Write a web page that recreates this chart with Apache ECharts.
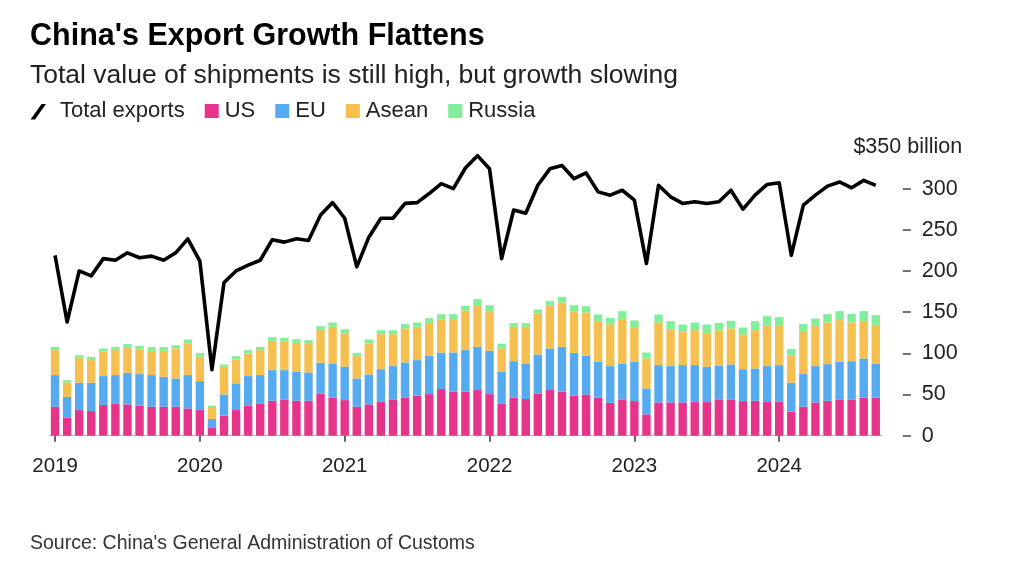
<!DOCTYPE html>
<html><head><meta charset="utf-8">
<script src="https://cdn.jsdelivr.net/npm/echarts@6/dist/echarts.min.js"></script>
<style>html,body{margin:0;padding:0;background:#fff}#c{width:1024px;height:585px}</style>
</head><body><div id="c"></div>
<script>
const months = [
'2019-01','2019-02','2019-03','2019-04','2019-05','2019-06','2019-07','2019-08','2019-09','2019-10','2019-11','2019-12',
'2020-01','2020-02','2020-03','2020-04','2020-05','2020-06','2020-07','2020-08','2020-09','2020-10','2020-11','2020-12',
'2021-01','2021-02','2021-03','2021-04','2021-05','2021-06','2021-07','2021-08','2021-09','2021-10','2021-11','2021-12',
'2022-01','2022-02','2022-03','2022-04','2022-05','2022-06','2022-07','2022-08','2022-09','2022-10','2022-11','2022-12',
'2023-01','2023-02','2023-03','2023-04','2023-05','2023-06','2023-07','2023-08','2023-09','2023-10','2023-11','2023-12',
'2024-01','2024-02','2024-03','2024-04','2024-05','2024-06','2024-07','2024-08','2024-09'];

const totalExports = [
219,138,200,194,215,213,222,216,218,213,222,239,
212,80,186,200,207,213,238,235,239,237,268,283,
264,205,241,264,264,282,283,294,306,300,325,340,
324,215,274,270,304,324,328,312,319,296,292,298,
286,209,304,290,282,284,282,284,298,275,292,305,
307,219,280,292,303,308,301,310,304];

const us = [
35.2,21.8,31.1,29.9,37.2,39.2,38,36.4,35.2,35.2,35.2,33.1,
31.1,9.5,24.3,31.1,36.4,39.2,42.4,44.1,42.4,42.4,51.3,46.1,
43.2,35.2,38,41.2,44.1,46.1,48.5,50.5,56.6,53.4,53.4,55.4,
50.5,38.8,46.1,44.5,51.3,55.4,53.4,48.5,50.1,46.1,40,44.1,
42,25.9,40.4,40.4,40.4,40.8,40.8,44.1,44.1,42,42.4,40.8,
41.2,29.1,35.2,40.4,42.4,44.1,44.1,46.1,46.1];

const eu = [
38.4,25.5,33.2,34.4,35.2,34.4,38.4,38.4,38.4,36.3,34.3,40.5,
35.2,11,25.8,32.4,36,34.4,37.2,35.5,35.2,34.4,37.2,41.6,
40.5,34.3,36.4,39.6,40.4,42.8,43.3,46.5,44.4,47.6,50.5,52.5,
52.6,38.8,44.4,43.2,47.3,50.5,54.5,52.1,46.9,43.6,44.5,43.6,
47.7,31.5,45.3,44.1,45.3,44.9,42.9,41.2,42.4,38.8,39.2,43.7,
44.5,35.2,39.6,44.1,44.5,45.6,46.4,47.7,41.6];

const asean = [
30.3,17.4,30.3,27.5,29.5,30.3,30.3,30.3,29.5,31.6,36.4,38,
29.5,14.5,33.6,29.1,27.4,30.3,35.6,34.4,35.2,34.8,40,44.5,
40.4,27.1,37.6,42.5,38.8,41.3,40.4,40,40.5,40.5,48.1,49.7,
48.1,28.3,41.7,44.5,49.7,51.7,53.8,49.8,52.6,49.7,50.9,53.8,
42.1,36.4,51.7,44.8,40.4,42.4,41.2,42.6,43.7,42.1,46.5,48.9,
48.5,32.7,52.5,48.9,50.5,50.6,46.9,45.6,46.9];

const russia = [
4,2.8,3.2,4,4,4,4.5,4,4.4,4.4,4,5.2,
4.8,1.5,2.8,4,4.1,4,4.4,4.8,4.4,4.4,4.5,5.2,
5.2,4,4.8,4.8,4.8,5.6,5.2,5.7,6,6,5.6,8.1,
7.2,5.7,4.4,4.4,4.9,5.7,6.9,8,7.6,7.7,7.7,9.7,
8.1,7.2,9.7,9.7,8.9,9.3,10.1,9.0,9.2,8.5,10.9,11.7,
9.7,8.1,8.1,8.9,10.1,10.9,10.5,11.8,11.7];

const yTickValues = [0,50,100,150,200,250,300];
const yMax = 350;
const yTopLabel = '$350 billion';

const FONT = "'Liberation Sans', Arial, Helvetica, sans-serif";
const C = {us:'#e5348a', eu:'#55aaf0', asean:'#f5c050', russia:'#80ee9b'};
const sq = 'path://M0,0 M16,16 M1,1 H15 V15 H1 Z';
const slash = 'path://M0,0 M16,17 M0.5,17 L5,17 L16,1.5 L11.5,1.5 Z';

const chart = echarts.init(document.getElementById('c'), null, {renderer:'canvas'});
const barBase = {type:'bar', stack:'partners', barWidth:8.4, z:2};
chart.setOption({
  animation:false,
  backgroundColor:'#fff',
  textStyle:{fontFamily:FONT},
  title:[
    {text:"China's Export Growth Flattens", left:30, top:21, padding:0,
     textStyle:{fontFamily:FONT, fontSize:30.5, fontWeight:'bold', color:'#000'}},
    {text:'Total value of shipments is still high, but growth slowing', left:30, top:62, padding:0,
     textStyle:{fontFamily:FONT, fontSize:26.5, fontWeight:'normal', color:'#222'}},
    {text:"Source: China's General Administration of Customs", left:30, top:534, padding:0,
     textStyle:{fontFamily:FONT, fontSize:19.5, fontWeight:'normal', color:'#333'}}
  ],
  legend:{
    left:30, top:100, padding:0, itemGap:19, itemWidth:16, itemHeight:17,
    symbolKeepAspect:true,
    textStyle:{fontFamily:FONT, fontSize:22, color:'#222'},
    data:[
      {name:'Total exports', icon:slash, itemStyle:{color:'#000'}, textStyle:{padding:[0,0,0,9]}},
      {name:'US', icon:sq},
      {name:'EU', icon:sq},
      {name:'Asean', icon:sq},
      {name:'Russia', icon:sq}
    ]
  },
  grid:{left:49, right:142.2, top:147.4, bottom:149.3, containLabel:false, outerBoundsMode:'none'},
  xAxis:{
    type:'category', data:months, boundaryGap:true,
    axisLine:{show:true, lineStyle:{color:'#bbb', width:1}},
    axisTick:{show:true, alignWithLabel:true, length:6, interval:(i)=>i%12===0, lineStyle:{color:'#333', width:1.5}},
    axisLabel:{interval:(i)=>i%12===0, formatter:(v)=>v.slice(0,4), margin:20,
      fontFamily:FONT, fontSize:20.5, color:'#222'},
    splitLine:{show:false}
  },
  yAxis:{
    type:'value', position:'right', offset:21, min:0, max:yMax,
    axisLine:{show:false},
    axisTick:{show:true, length:8, customValues:yTickValues, lineStyle:{color:'#444', width:1.5}},
    axisLabel:{show:true, customValues:yTickValues, margin:19, align:'left',
      fontFamily:FONT, fontSize:21.5, color:'#222'},
    splitLine:{show:false},
    name:yTopLabel, nameLocation:'end', nameGap:0,
    nameTextStyle:{fontFamily:FONT, fontSize:21.5, color:'#222', align:'center', verticalAlign:'middle', padding:[0,0,0,10]}
  },
  series:[
    {name:'Total exports', type:'line', data:totalExports, symbol:'none', z:10,
     lineStyle:{color:'#000', width:3.6, join:'round'}, itemStyle:{color:'#000'}},
    Object.assign({name:'US', data:us, itemStyle:{color:C.us}}, barBase),
    Object.assign({name:'EU', data:eu, itemStyle:{color:C.eu}}, barBase),
    Object.assign({name:'Asean', data:asean, itemStyle:{color:C.asean}}, barBase),
    Object.assign({name:'Russia', data:russia, itemStyle:{color:C.russia}}, barBase)
  ]
});
</script></body></html>
